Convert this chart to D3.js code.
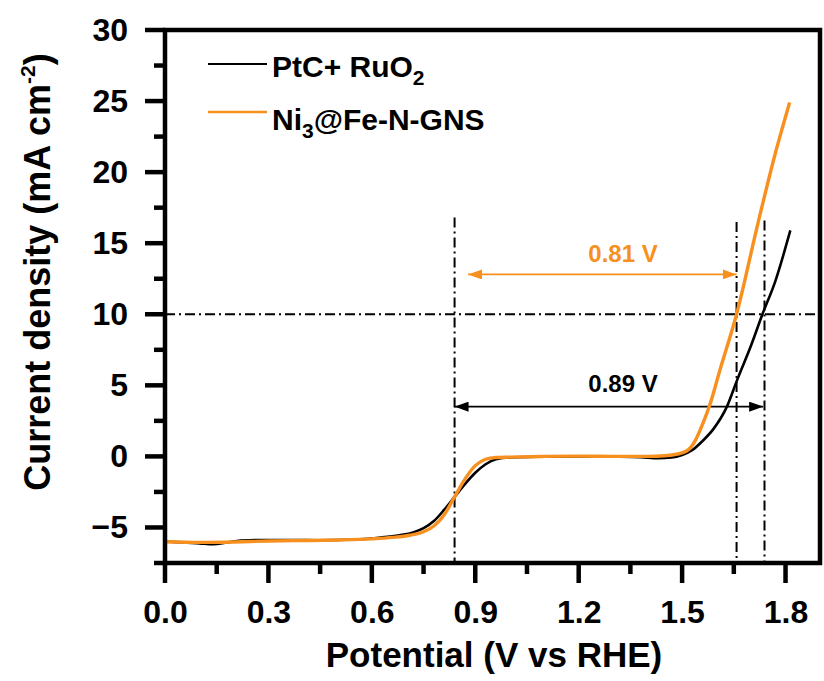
<!DOCTYPE html>
<html>
<head>
<meta charset="utf-8">
<script src="https://cdn.jsdelivr.net/npm/d3@7"></script>
<style>
  html, body { margin: 0; padding: 0; background: #fff; }
  svg text { font-family: "Liberation Sans", Arial, sans-serif; font-weight: bold; }
</style>
</head>
<body>
<svg id="chart" width="824" height="681"></svg>
<script>
// ---- data ----
const ptcV = [0.00,0.05,0.10,0.14,0.18,0.22,0.28,0.35,0.45,0.55,0.62,0.68,0.72,0.75,0.78,0.81,0.84,0.87,0.90,0.93,0.96,1.00,1.10,1.20,1.30,1.38,1.43,1.47,1.50,1.53,1.56,1.59,1.63,1.66,1.70,1.733,1.77,1.814];
const ptcJ = [-6.00,-6.05,-6.12,-6.18,-6.05,-5.92,-5.88,-5.88,-5.90,-5.85,-5.72,-5.55,-5.35,-5.05,-4.55,-3.75,-2.85,-1.95,-1.15,-0.55,-0.20,-0.07,-0.02,0.00,-0.02,-0.05,-0.12,-0.08,0.10,0.45,1.10,1.90,3.50,5.40,7.80,10.0,12.3,15.9];
const niV = [0.00,0.10,0.20,0.30,0.40,0.50,0.60,0.66,0.71,0.75,0.78,0.81,0.84,0.87,0.90,0.93,0.96,1.00,1.10,1.20,1.30,1.40,1.45,1.50,1.52,1.54,1.56,1.58,1.61,1.658,1.72,1.768,1.812];
const niJ = [-6.00,-6.05,-6.02,-5.95,-5.92,-5.88,-5.80,-5.70,-5.55,-5.30,-4.90,-4.10,-2.85,-1.60,-0.65,-0.20,-0.08,-0.05,0.00,0.02,0.00,0.00,0.05,0.25,0.50,1.20,2.30,3.60,6.10,10.0,16.4,21.1,24.9];
const seriesNames = ["PtC+ RuO", "Ni"];
const xTicks = [0.0,0.3,0.6,0.9,1.2,1.5,1.8];
const xMinor = [0.15,0.45,0.75,1.05,1.35,1.65];
const yTicks = [-5,0,5,10,15,20,25,30];
const yMinor = [-7.5,-2.5,2.5,7.5,12.5,17.5,22.5,27.5];
const refV = [0.84, 1.658, 1.739];
const refTopJ = [16.8, 16.5, 16.6];
const refJ = 10;
const arrowOrange = {v0: 0.879, v1: 1.658, j: 12.8, label: "0.81 V"};
const arrowBlack = {v0: 0.84, v1: 1.735, j: 3.5, label: "0.89 V"};

const ORANGE = "#f7901e";

const svg = d3.select("#chart");
const L = 165, T = 30, R = 820, B = 563;
const x = d3.scaleLinear().domain([0, 1.9]).range([L, R]);
const y = d3.scaleLinear().domain([-7.5, 30]).range([B, T]);

const defs = svg.append("defs");
function marker(id, color) {
  defs.append("marker").attr("id", id).attr("viewBox", "0 0 14 10")
    .attr("refX", 14).attr("refY", 5).attr("markerWidth", 14).attr("markerHeight", 10)
    .attr("markerUnits", "userSpaceOnUse").attr("orient", "auto-start-reverse")
    .append("path").attr("d", "M0,0 L14,5 L0,10 Z").attr("fill", color);
}
marker("arrO", ORANGE);
marker("arrK", "#000");

// reference lines
const dash = "10,4,2,4";
refV.forEach((v, i) => {
  svg.append("line").attr("x1", x(v)).attr("x2", x(v)).attr("y1", y(refTopJ[i])).attr("y2", B)
    .attr("stroke", "#000").attr("stroke-width", 2).attr("stroke-dasharray", dash);
});
svg.append("line").attr("x1", L).attr("x2", R).attr("y1", y(refJ)).attr("y2", y(refJ))
  .attr("stroke", "#000").attr("stroke-width", 2.2).attr("stroke-dasharray", dash);

// arrows
function arrow(a, color, mk) {
  svg.append("line").attr("x1", x(a.v0)).attr("x2", x(a.v1)).attr("y1", y(a.j)).attr("y2", y(a.j))
    .attr("stroke", color).attr("stroke-width", 1.8)
    .attr("marker-start", `url(#${mk})`).attr("marker-end", `url(#${mk})`);
}
arrow(arrowOrange, ORANGE, "arrO");
arrow(arrowBlack, "#000", "arrK");
svg.append("text").attr("x", 623).attr("y", y(arrowOrange.j) - 12).attr("text-anchor", "middle")
  .attr("font-size", 24).attr("fill", ORANGE).text(arrowOrange.label);
svg.append("text").attr("x", 623).attr("y", y(arrowBlack.j) - 15).attr("text-anchor", "middle")
  .attr("font-size", 24).attr("fill", "#000").text(arrowBlack.label);

// curves
const line = d3.line().x(d => x(d[0])).y(d => y(d[1])).curve(d3.curveMonotoneX);
svg.append("path").datum(ptcV.map((v, i) => [v, ptcJ[i]])).attr("d", line)
  .attr("fill", "none").attr("stroke", "#000").attr("stroke-width", 2.6);
svg.append("path").datum(niV.map((v, i) => [v, niJ[i]])).attr("d", line)
  .attr("fill", "none").attr("stroke", ORANGE).attr("stroke-width", 3.4);

// axes: labels via d3 axis, tick marks drawn explicitly
const xAxis = svg.append("g").attr("transform", `translate(0,${B})`);
xAxis.call(d3.axisBottom(x).tickValues(xTicks).tickSizeInner(20).tickSizeOuter(0).tickPadding(17).tickFormat(d3.format(".1f")));
const yAxis = svg.append("g").attr("transform", `translate(${L},0)`);
yAxis.call(d3.axisLeft(y).tickValues(yTicks).tickSizeInner(20).tickSizeOuter(0).tickPadding(17).tickFormat(d3.format("d")));
svg.selectAll(".domain").remove();
svg.selectAll(".tick line").remove();
svg.selectAll(".tick text").attr("font-size", 32).attr("fill", "#000")
  .attr("font-family", "Liberation Sans, Arial, sans-serif").attr("font-weight", "bold");

const tickG = svg.append("g").attr("stroke", "#000").attr("stroke-width", 4.5);
xTicks.forEach(v => tickG.append("line").attr("x1", x(v)).attr("x2", x(v)).attr("y1", B).attr("y2", B + 20));
xMinor.forEach(v => tickG.append("line").attr("x1", x(v)).attr("x2", x(v)).attr("y1", B).attr("y2", B + 11));
yTicks.forEach(v => tickG.append("line").attr("y1", y(v)).attr("y2", y(v)).attr("x1", L).attr("x2", L - 20));
yMinor.forEach(v => tickG.append("line").attr("y1", y(v)).attr("y2", y(v)).attr("x1", L).attr("x2", L - 11));

// frame
svg.append("rect").attr("x", L).attr("y", T).attr("width", R - L).attr("height", B - T)
  .attr("fill", "none").attr("stroke", "#000").attr("stroke-width", 4.5);

// legend
const lg = svg.append("g");
lg.append("line").attr("x1", 208).attr("x2", 267).attr("y1", 64).attr("y2", 64).attr("stroke", "#000").attr("stroke-width", 2.2);
lg.append("line").attr("x1", 208).attr("x2", 267).attr("y1", 112).attr("y2", 112).attr("stroke", ORANGE).attr("stroke-width", 2.6);
const t1 = lg.append("text").attr("x", 272).attr("y", 77).attr("font-size", 30).attr("fill", "#000");
t1.append("tspan").text(seriesNames[0]);
t1.append("tspan").attr("font-size", 21).attr("dy", 8).text("2");
const t2 = lg.append("text").attr("x", 272).attr("y", 130).attr("font-size", 30).attr("fill", "#000");
t2.append("tspan").text(seriesNames[1]);
t2.append("tspan").attr("font-size", 21).attr("dy", 8).text("3");
t2.append("tspan").attr("dy", -8).text("@Fe-N-GNS");

// axis titles
svg.append("text").attr("x", 494).attr("y", 667).attr("text-anchor", "middle").attr("font-size", 35)
  .attr("fill", "#000").text("Potential (V vs RHE)");
const yt = svg.append("text").attr("transform", "translate(50,272) rotate(-90)").attr("text-anchor", "middle")
  .attr("font-size", 36).attr("fill", "#000");
yt.append("tspan").text("Current density (mA cm");
yt.append("tspan").attr("font-size", 21).attr("dy", -15).text("-2");
yt.append("tspan").attr("dy", 15).text(")");
</script>
</body>
</html>
